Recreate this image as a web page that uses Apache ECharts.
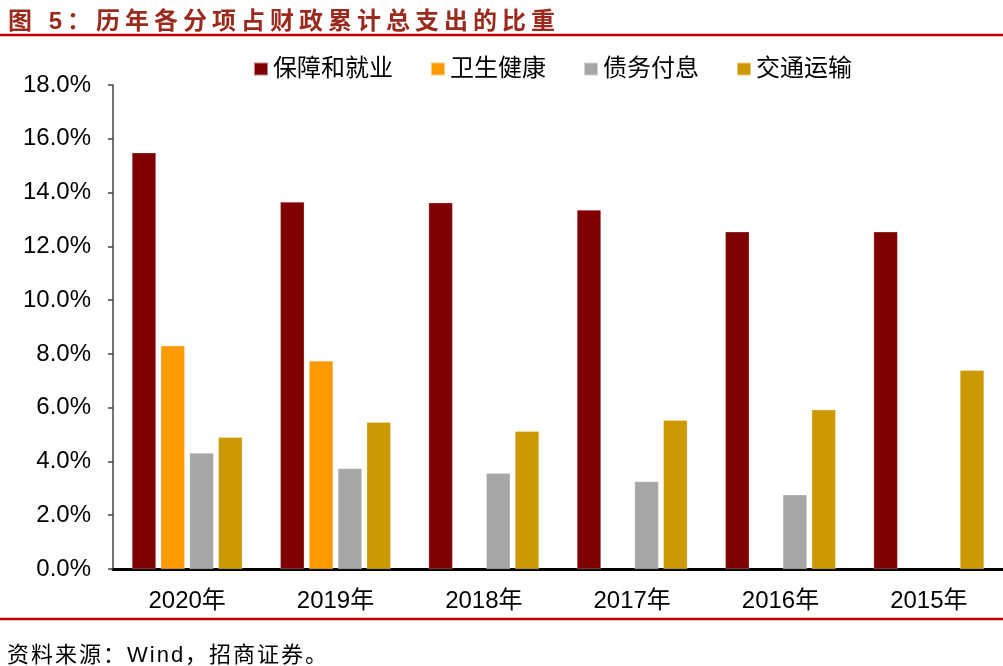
<!DOCTYPE html>
<html>
<head>
<meta charset="utf-8">
<script src="https://cdn.jsdelivr.net/npm/echarts@6/dist/echarts.min.js"></script>
<style>
  html, body { margin: 0; padding: 0; background: #fff; }
  #chart { width: 1003px; height: 666px; }
</style>
</head>
<body>
<div id="chart"></div>
<script>
const years = ['2020年', '2019年', '2018年', '2017年', '2016年', '2015年']
const seriesNames = ['保障和就业', '卫生健康', '债务付息', '交通运输']
const socialSecurity = [15.48, 13.65, 13.62, 13.35, 12.54, 12.54]
const health = [8.30, 7.74, null, null, null, null]
const debtInterest = [4.31, 3.74, 3.56, 3.25, 2.76, null]
const transport = [4.90, 5.46, 5.12, 5.53, 5.92, 7.39]
const colors = ['#800000', '#FF9900', '#A6A6A6', '#CC9900']

const titleText = '图 5：历年各分项占财政累计总支出的比重'
const sourceText = '资料来源：Wind，招商证券。'

const chart = echarts.init(document.getElementById('chart'))
const font = '"Liberation Sans", Arial, "Noto Sans CJK SC", sans-serif'

// letter spacing through rich text: one token per character
const spaced = (str, key) => str.split('').map(ch => `{${key}|${ch}}`).join('')

const makeBar = (name, data, i) => ({
  name,
  type: 'bar',
  data,
  barWidth: 24,
  barGap: '20%',
  itemStyle: { color: colors[i], borderColor: 'rgba(255,255,255,0.5)', borderWidth: 0.5 }
})

chart.setOption({
  backgroundColor: '#fff',
  animation: false,
  title: [
    {
      text: spaced(titleText, 't'),
      left: 3,
      top: 5,
      textStyle: {
        rich: {
          t: { fontFamily: font, fontSize: 24, fontWeight: 'bold', color: '#9B2A1E', padding: [0, 5, 0, 0] }
        }
      }
    },
    {
      text: spaced(sourceText, 's'),
      left: 2,
      top: 640,
      textStyle: {
        fontWeight: 'normal',
        rich: {
          s: { fontFamily: font, fontSize: 22, fontWeight: 'normal', color: '#000', padding: [0, 2, 0, 0] }
        }
      }
    }
  ],
  graphic: [
    { type: 'line', shape: { x1: 0, y1: 35, x2: 1003, y2: 35 }, style: { stroke: '#C00000', lineWidth: 2.5 } },
    { type: 'line', shape: { x1: 0, y1: 619, x2: 1003, y2: 619 }, style: { stroke: '#C00000', lineWidth: 2.5 } }
  ],
  legend: {
    data: seriesNames,
    left: 248,
    top: 52,
    itemWidth: 14,
    itemHeight: 13,
    itemGap: 37,
    icon: 'rect',
    textStyle: { fontFamily: font, fontSize: 24, color: '#000' }
  },
  grid: { left: 113, right: 0, top: 85, bottom: 97, containLabel: false },
  xAxis: {
    type: 'category',
    data: years,
    axisLine: { lineStyle: { color: '#000', width: 3 } },
    axisTick: { show: false },
    axisLabel: { fontFamily: font, fontSize: 24, color: '#000', margin: 20 }
  },
  yAxis: {
    type: 'value',
    min: 0,
    max: 18,
    interval: 2,
    axisLine: { show: true, lineStyle: { color: '#444', width: 1.5 } },
    axisTick: { show: true, length: 5, lineStyle: { color: '#444', width: 1.5 } },
    splitLine: { show: false },
    axisLabel: {
      fontFamily: font,
      fontSize: 24,
      color: '#000',
      margin: 22,
      formatter: v => v.toFixed(1) + '%'
    }
  },
  series: [
    makeBar(seriesNames[0], socialSecurity, 0),
    makeBar(seriesNames[1], health, 1),
    makeBar(seriesNames[2], debtInterest, 2),
    makeBar(seriesNames[3], transport, 3)
  ]
})
</script>
</body>
</html>
